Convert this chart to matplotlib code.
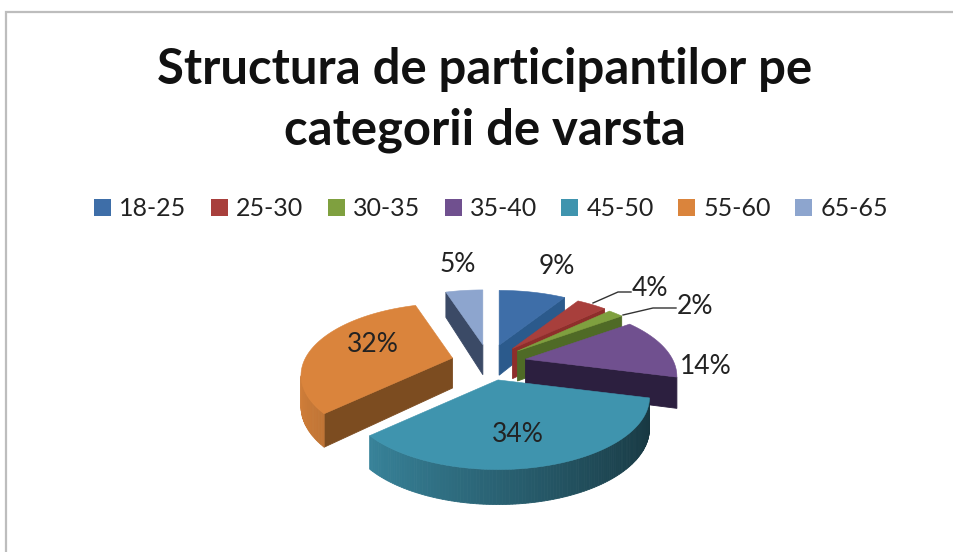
import numpy as np
import matplotlib
matplotlib.use("Agg")
import matplotlib.pyplot as plt
from matplotlib.patches import Patch
from matplotlib.colors import to_rgb

categories = ["18-25", "25-30", "30-35", "35-40", "45-50", "55-60", "65-65"]
values = [9, 4, 2, 14, 34, 32, 5]
top_colors = ["#3E6EA8", "#A83F3C", "#7FA03F", "#70508F", "#3F94AE", "#DA843C", "#8DA5CE"]
face_colors = ["#2B5A8C", "#8E2E2B", "#4F6A26", "#2C1F3F", "#1F5363", "#7C4C20", "#3B4A66"]
title_lines = "Structura de participantilor pe\ncategorii de varsta"

FONT = "Lato"
CX, CY = 488.7, 362.5
EX, EY = 37.4, 18.0
RX, RY = 147.0, 68.0
K = 0.241
DEPTH = 30.0

fig = plt.figure(figsize=(9.54, 5.52), dpi=100)
ax = fig.add_axes([0, 0, 1, 1])
ax.set_xlim(0, 954)
ax.set_ylim(552, 0)
ax.axis("off")

ax.plot([6, 6, 954], [552, 12, 12], color="#BDBDBD", lw=1.6, solid_joinstyle="miter")


def project(ax0, ay0, theta, r=1.0, drop=False):
    x, y = r * np.sin(theta), r * np.cos(theta)
    s = 1.0 / (1.0 + K * y)
    sx = ax0 + RX * x * s
    sy = ay0 - RY * y * s
    if drop:
        sy = sy + DEPTH - 5.0 * y
    return sx, sy


def area(p):
    a = np.array(p)
    return 0.5 * np.sum(a[:, 0] * np.roll(a[:, 1], -1) - np.roll(a[:, 0], -1) * a[:, 1])


fr = np.cumsum([0] + values) / sum(values) * 2 * np.pi
paint_order = [6, 0, 1, 2, 3, 5, 4]
for i in paint_order:
    t0, t1 = fr[i], fr[i + 1]
    mid = 0.5 * (t0 + t1)
    ax0 = CX + EX * np.sin(mid)
    ay0 = CY - EY * np.cos(mid)
    ts = np.linspace(t0, t1, max(12, int((t1 - t0) * 60)))
    rim = [project(ax0, ay0, t) for t in ts]
    low = [project(ax0, ay0, t, drop=True) for t in ts]
    apex = (ax0, ay0)
    apex_low = (ax0, ay0 + DEPTH)
    # radial faces
    for poly in ([apex, rim[0], low[0], apex_low], [rim[-1], apex, apex_low, low[-1]]):
        if area(poly) < 0:
            ax.fill(*zip(*poly), color=face_colors[i], lw=0.6)
    # outer rim, shaded from left to right
    base = np.array(to_rgb(top_colors[i]))
    for j in range(len(ts) - 1):
        q = [rim[j], rim[j + 1], low[j + 1], low[j]]
        if area(q) < 0:
            f = 0.66 - 0.30 * np.sin(0.5 * (ts[j] + ts[j + 1]))
            ax.fill(*zip(*q), color=tuple(base * f), lw=0.6)
    ax.fill(*zip(*([apex] + rim)), color=top_colors[i], lw=0.4)

# data labels
label_pos = [(557, 266), (650, 288), (695, 306), (706, 366), (518, 434), (373, 344), (458, 264)]
for v, (lx, ly) in zip(values, label_pos):
    ax.text(lx, ly, f"{v}%", ha="center", va="center", family=FONT, fontsize=19, color="#222222")

# leader lines
ax.plot([593, 618, 631], [303, 292, 292], color="#333333", lw=1.0)
ax.plot([623, 653, 676], [315, 308, 308], color="#333333", lw=1.0)

# title
ax.text(485, 100, title_lines, ha="center", va="center", family=FONT, fontweight="bold",
        fontsize=35.3, color="#111111", linespacing=1.42)

# legend
handles = [Patch(facecolor=c, edgecolor="none") for c in top_colors]
ax.legend(handles, categories, ncol=7, loc="center", bbox_to_anchor=(491 / 954, 1 - 209 / 552),
          frameon=False, prop={"family": FONT, "size": 18}, labelcolor="#222222",
          handlelength=0.68, handleheight=0.68, handletextpad=0.32, columnspacing=0.98,
          borderpad=0)

fig.savefig("out.png", dpi=100, facecolor="white")
